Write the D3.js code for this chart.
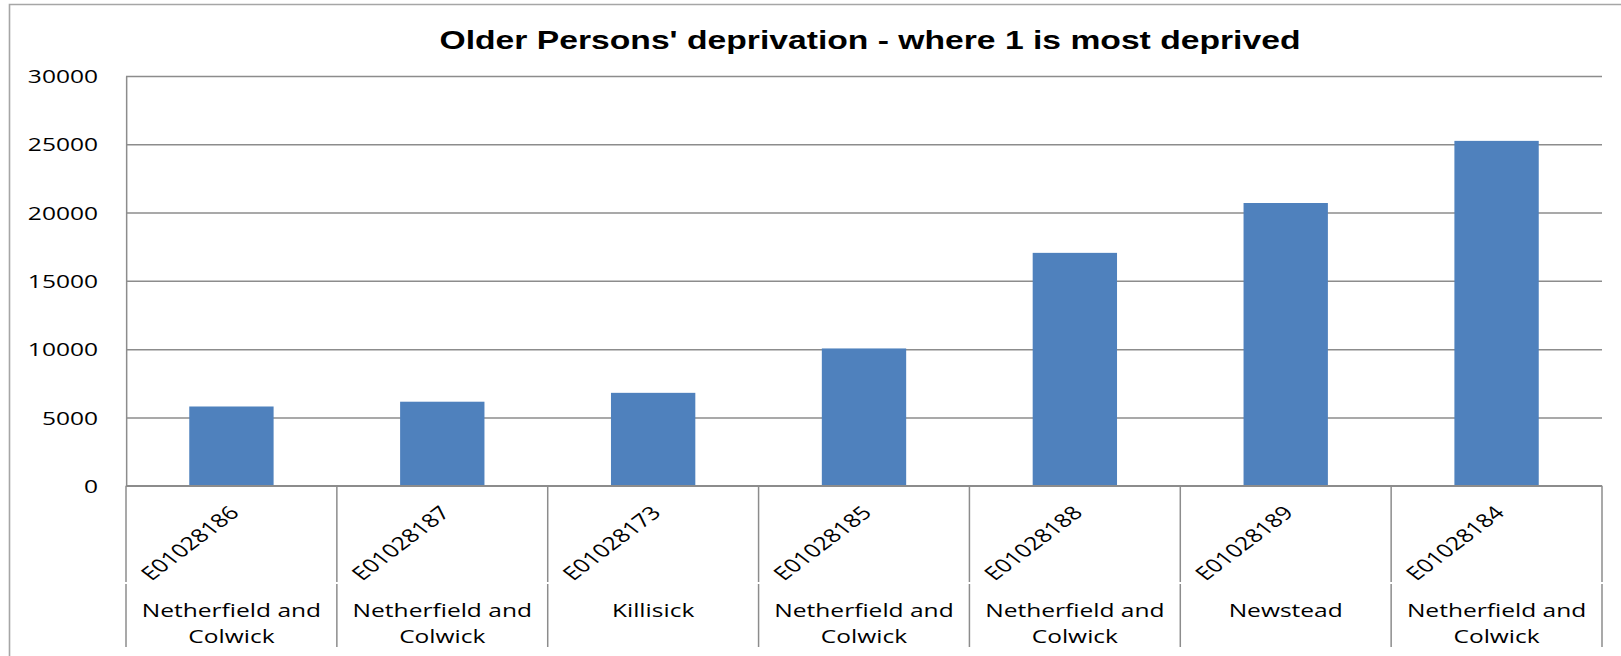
<!DOCTYPE html>
<html>
<head>
<meta charset="utf-8">
<script src="https://cdn.jsdelivr.net/npm/d3@7"></script>
<style>
  html, body { margin: 0; padding: 0; background: #ffffff; }
  svg { display: block; }
</style>
</head>
<body>
<div id="chart"></div>
<script>
// ---- data ----
const codes = ["E01028186", "E01028187", "E01028173", "E01028185", "E01028188", "E01028189", "E01028184"];
const names = [["Netherfield and", "Colwick"], ["Netherfield and", "Colwick"], ["Killisick"], ["Netherfield and", "Colwick"], ["Netherfield and", "Colwick"], ["Newstead"], ["Netherfield and", "Colwick"]];
const values = [5800, 6150, 6800, 10050, 17050, 20700, 25250];
const yTicks = [0, 5000, 10000, 15000, 20000, 25000, 30000];
const title = "Older Persons' deprivation - where 1 is most deprived";

// ---- layout (page pixels); the picture is horizontally stretched like the original ----
const W = 1621, H = 656;
const S = 1.32;                 // horizontal stretch of the original image
const VW = W / S;               // view width
const fx = x => x / S;          // page x -> view x

const plotLeft = 126, plotRight = 1602, plotTop = 76, plotBottom = 485.7;
const sepBottom = 647, levelGap = 583;

const svg = d3.select("#chart").append("svg")
  .attr("width", W).attr("height", H)
  .attr("viewBox", `0 0 ${VW} ${H}`)
  .attr("preserveAspectRatio", "none");

// outer chart border (only left/top visible in crop)
svg.append("rect")
  .attr("x", fx(9.5)).attr("y", 4.5)
  .attr("width", VW + 20).attr("height", H + 20)
  .attr("fill", "#ffffff")
  .attr("stroke", "#a6a6a6").attr("stroke-width", 1.6)
  .attr("vector-effect", "non-scaling-stroke");

// scales
const x = d3.scaleBand().domain(codes).range([fx(plotLeft), fx(plotRight)])
  .paddingInner(0.6).paddingOuter(0.3);
const xCat = d3.scaleBand().domain(codes).range([fx(plotLeft), fx(plotRight)]).padding(0);
const y = d3.scaleLinear().domain([0, 30000]).range([plotBottom, plotTop]);

// y axis with gridlines
const yAxis = d3.axisLeft(y).tickValues(yTicks)
  .tickSize(-(fx(plotRight) - fx(plotLeft))).tickSizeOuter(0).tickPadding(fx(28))
  .tickFormat(d3.format("d"));
const gy = svg.append("g").attr("transform", `translate(${fx(plotLeft)},0)`).call(yAxis);
gy.selectAll("line, path")
  .attr("stroke", "#8c8c8c").attr("stroke-width", 1.5)
  .attr("vector-effect", "non-scaling-stroke");
gy.selectAll("text")
  .attr("font-family", "'Open Sans', sans-serif")
  .attr("font-size", 18.6).attr("fill", "#000")
  .attr("dy", "0.36em");

// bars
svg.append("g").selectAll("rect").data(values).join("rect")
  .attr("x", (d, i) => x(codes[i]))
  .attr("width", x.bandwidth())
  .attr("y", d => y(d))
  .attr("height", d => y(0) - y(d))
  .attr("fill", "#4f81bd");

// baseline (x axis)
svg.append("line")
  .attr("x1", fx(plotLeft)).attr("x2", fx(plotRight))
  .attr("y1", y(0)).attr("y2", y(0))
  .attr("stroke", "#8c8c8c").attr("stroke-width", 1.5)
  .attr("vector-effect", "non-scaling-stroke");

// category separators (two-level axis)
const bounds = codes.map(c => xCat(c)).concat([xCat(codes[codes.length - 1]) + xCat.bandwidth()]);
const sep = svg.append("g");
bounds.forEach(bx => {
  sep.append("line").attr("x1", bx).attr("x2", bx).attr("y1", y(0)).attr("y2", levelGap - 1)
    .attr("stroke", "#8c8c8c").attr("stroke-width", 1.5).attr("vector-effect", "non-scaling-stroke");
  sep.append("line").attr("x1", bx).attr("x2", bx).attr("y1", levelGap + 1).attr("y2", sepBottom)
    .attr("stroke", "#8c8c8c").attr("stroke-width", 1.5).attr("vector-effect", "non-scaling-stroke");
});

// rotated code labels
svg.append("g").selectAll("text").data(codes).join("text")
  .attr("transform", d => `translate(${xCat(d) + xCat.bandwidth() / 2 + fx(9)},514) rotate(-45)`)
  .attr("text-anchor", "end")
  .attr("font-family", "'Open Sans', sans-serif")
  .attr("font-size", 18.6).attr("fill", "#000")
  .text(d => d);

// area names
const ng = svg.append("g");
names.forEach((lines, i) => {
  const cx = xCat(codes[i]) + xCat.bandwidth() / 2;
  lines.forEach((ln, j) => {
    ng.append("text")
      .attr("x", cx).attr("y", 617 + j * 25.7)
      .attr("text-anchor", "middle")
      .attr("font-family", "'Open Sans', sans-serif")
      .attr("font-size", 18.6).attr("fill", "#000")
      .text(ln);
  });
});

// title
svg.append("text")
  .attr("x", fx(870)).attr("y", 49)
  .attr("text-anchor", "middle")
  .attr("font-family", "'Liberation Sans', Arial, sans-serif")
  .attr("font-weight", "bold")
  .attr("font-size", 25.5).attr("fill", "#000")
  .text(title);
</script>
</body>
</html>
